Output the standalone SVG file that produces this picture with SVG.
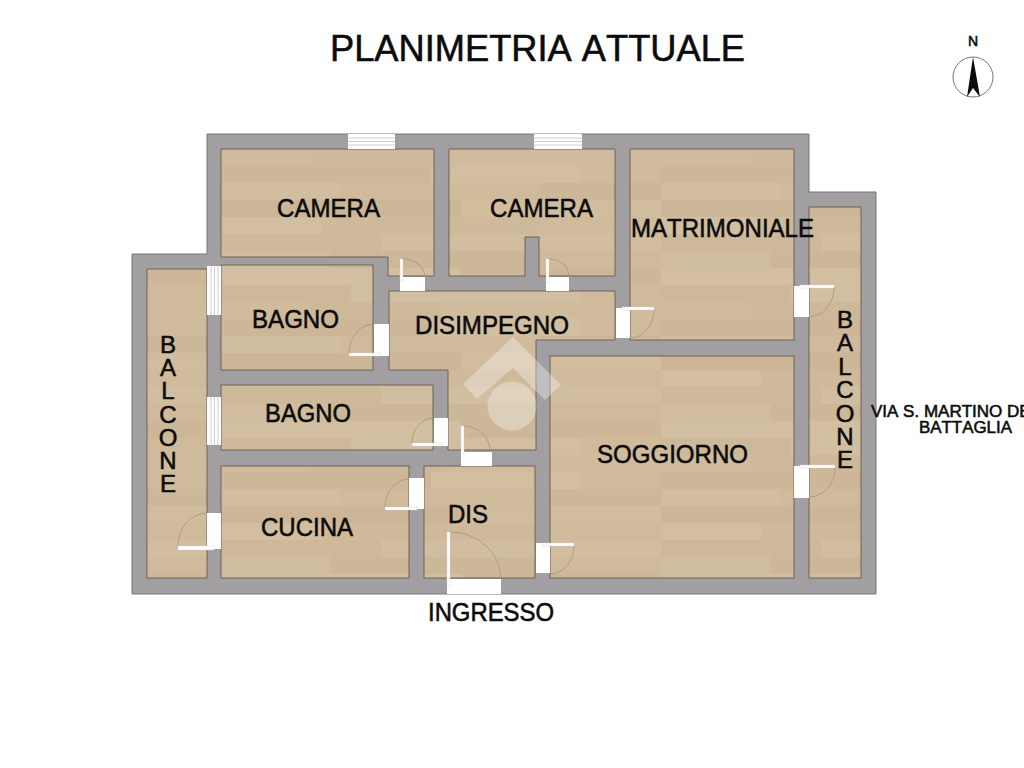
<svg xmlns="http://www.w3.org/2000/svg" width="1024" height="768" viewBox="0 0 1024 768">
<style>
.wall{fill:#a19fa2;stroke:#77757a;stroke-width:1}
.room{fill:url(#wood);stroke:#6e6255;stroke-width:1}
.open{fill:#fff}
.leaf{fill:#fff;stroke:#d4d1cc;stroke-width:.4}
.arc{fill:none;stroke:#95897a;stroke-width:.6}
.win{stroke:#cfcece;stroke-width:1;fill:none}
.t{font-family:"Liberation Sans",Arial,sans-serif;fill:#0b0b0b;stroke:#0b0b0b;stroke-width:.55;font-kerning:none}
.l{font-size:25px}
.c{font-size:24px;text-anchor:middle}
</style>
<defs>
<pattern id="wood" patternUnits="userSpaceOnUse" x="221" y="149" width="440" height="153">
<rect width="440" height="153" fill="#cfba9b"/>
<rect x="0" y="0" width="90" height="17" fill="#d0bb9c"/>
<rect x="90" y="0" width="130" height="17" fill="#cdb899"/>
<rect x="220" y="0" width="220" height="17" fill="#d0bc9d"/>
<rect x="0" y="17" width="210" height="17" fill="#cdb798"/>
<rect x="210" y="17" width="150" height="17" fill="#d2bea0"/>
<rect x="0" y="34" width="120" height="17" fill="#d1bd9f"/>
<rect x="120" y="34" width="200" height="17" fill="#cfba9b"/>
<rect x="320" y="34" width="120" height="17" fill="#ccb798"/>
<rect x="0" y="51" width="240" height="17" fill="#ccb697"/>
<rect x="240" y="51" width="200" height="17" fill="#d1bd9e"/>
<rect x="0" y="68" width="100" height="17" fill="#d2bea0"/>
<rect x="100" y="68" width="220" height="17" fill="#ceb99a"/>
<rect x="320" y="68" width="120" height="17" fill="#cfbb9c"/>
<rect x="0" y="85" width="160" height="17" fill="#cdb899"/>
<rect x="160" y="85" width="280" height="17" fill="#d1bd9f"/>
<rect x="0" y="102" width="110" height="17" fill="#d0bc9e"/>
<rect x="110" y="102" width="210" height="17" fill="#ccb798"/>
<rect x="0" y="119" width="240" height="17" fill="#d2bfa1"/>
<rect x="240" y="119" width="200" height="17" fill="#cdb798"/>
<rect x="0" y="136" width="130" height="17" fill="#cdb899"/>
<rect x="130" y="136" width="230" height="17" fill="#d2bea0"/>
</pattern>
</defs>
<rect width="1024" height="768" fill="#fff"/>

<g id="walls"><polygon class="wall" points="207,134 809,134 809,192 876,192 876,594 132,594 132,254 207,254"/></g>

<g id="rooms">
<polygon id="camera-1" class="room" points="221,149 434,149 434,276 388,276 388,257 221,257"/>
<polygon id="camera-2" class="room" points="449,149 615,149 615,276 539,276 539,237 525,237 525,276 449,276"/>
<rect id="matrimoniale" class="room" x="630" y="149" width="164" height="191"/>
<rect id="balcone-destro" class="room" x="809" y="207" width="52" height="371"/>
<rect id="soggiorno" class="room" x="550" y="356" width="244" height="222"/>
<polygon id="disimpegno" class="room" points="389,291 615,291 615,340 536,340 536,450 448,450 448,370 389,370"/>
<rect id="bagno-1" class="room" x="221" y="265" width="152" height="105"/>
<rect id="bagno-2" class="room" x="221" y="385" width="212" height="65"/>
<rect id="cucina" class="room" x="221" y="466" width="188" height="112"/>
<rect id="dis" class="room" x="424" y="466" width="111" height="112"/>
<rect id="balcone-sinistro" class="room" x="147" y="269" width="60" height="309"/>
</g>

<g id="windows">
<rect class="open" x="348" y="134" width="47" height="15"/><path class="win" d="M348 138H395M348 141.500H395M348 145H395"/>
<rect class="open" x="534" y="134" width="48" height="15"/><path class="win" d="M534 138H582M534 141.500H582M534 145H582"/>
<rect class="open" x="207" y="266" width="14" height="49"/><path class="win" d="M211 266V315M214.500 266V315M218 266V315"/>
<rect class="open" x="207" y="397" width="14" height="48"/><path class="win" d="M211 397V445M214.500 397V445M218 397V445"/>
</g>

<g id="doors">
<rect class="open" x="400" y="277" width="25" height="14"/><rect class="leaf" x="400" y="259" width="3" height="22"/><path class="arc" d="M403 259A22 18 0 0 1 425 276"/>
<rect class="open" x="546" y="277" width="23" height="14"/><rect class="leaf" x="546" y="259" width="3" height="24"/><path class="arc" d="M549 259A20 17 0 0 1 569 276"/>
<rect class="open" x="616" y="308" width="14" height="30"/><rect class="leaf" x="622" y="307" width="32" height="3"/><path class="arc" d="M654 310A24 28 0 0 1 630 338"/>
<rect class="open" x="374" y="324" width="15" height="32"/><rect class="leaf" x="349" y="353" width="32" height="3"/><path class="arc" d="M349 353A25 29 0 0 1 374 324"/>
<rect class="open" x="434" y="418" width="14" height="28"/><rect class="leaf" x="412" y="443" width="30" height="3"/><path class="arc" d="M412 443A22 25 0 0 1 434 418"/>
<rect class="open" x="461" y="452" width="31" height="14"/><rect class="leaf" x="461" y="426" width="3" height="28"/><path class="arc" d="M464 426A26 25 0 0 1 490 451"/>
<rect class="open" x="409" y="478" width="15" height="31"/><rect class="leaf" x="385" y="507" width="32" height="3"/><path class="arc" d="M385 507A24 28 0 0 1 409 479"/>
<rect class="open" x="207" y="513" width="14" height="36"/><rect class="leaf" x="178" y="546" width="36" height="4"/><path class="arc" d="M178 546A29 33 0 0 1 207 513"/>
<rect class="open" x="447" y="579" width="54" height="15"/><rect class="leaf" x="447" y="532" width="3" height="54"/><path class="arc" d="M450 532A51 47 0 0 1 501 579"/>
<rect class="open" x="536" y="543" width="14" height="30"/><rect class="leaf" x="543" y="543" width="31" height="3"/><path class="arc" d="M574 546A24 28 0 0 1 550 574"/>
<rect class="open" x="794" y="286" width="15" height="31"/><rect class="leaf" x="800" y="285" width="34" height="3"/><path class="arc" d="M834 288A25 29 0 0 1 809 317"/>
<rect class="open" x="794" y="466" width="15" height="32"/><rect class="leaf" x="800" y="465" width="35" height="3"/><path class="arc" d="M835 468A26 29 0 0 1 809 497"/>
</g>

<g id="watermark" fill="#fff" fill-opacity=".32">
<polygon points="513,337 463,384 477,399 513,368 545,400 561,385"/>
<circle cx="512" cy="406" r="24.500"/>
</g>

<g id="labels">
<text class="t" x="330" y="61" font-size="36" textLength="415" lengthAdjust="spacingAndGlyphs">PLANIMETRIA ATTUALE</text>
<text class="t l" x="277" y="217" textLength="103" lengthAdjust="spacingAndGlyphs">CAMERA</text>
<text class="t l" x="490" y="217" textLength="103" lengthAdjust="spacingAndGlyphs">CAMERA</text>
<text class="t l" x="631" y="237" textLength="183" lengthAdjust="spacingAndGlyphs">MATRIMONIALE</text>
<text class="t l" x="252" y="328" textLength="87" lengthAdjust="spacingAndGlyphs">BAGNO</text>
<text class="t l" x="415" y="334" textLength="154" lengthAdjust="spacingAndGlyphs">DISIMPEGNO</text>
<text class="t l" x="265" y="422" textLength="86" lengthAdjust="spacingAndGlyphs">BAGNO</text>
<text class="t l" x="597" y="463" textLength="151" lengthAdjust="spacingAndGlyphs">SOGGIORNO</text>
<text class="t l" x="261" y="536" textLength="92" lengthAdjust="spacingAndGlyphs">CUCINA</text>
<text class="t l" x="448" y="523" textLength="40" lengthAdjust="spacingAndGlyphs">DIS</text>
<text class="t l" x="428" y="621" textLength="126" lengthAdjust="spacingAndGlyphs">INGRESSO</text>
<text class="t c"><tspan x="168" y="353">B</tspan><tspan x="168" y="376">A</tspan><tspan x="168" y="399">L</tspan><tspan x="168" y="423">C</tspan><tspan x="168" y="446">O</tspan><tspan x="168" y="469">N</tspan><tspan x="168" y="492">E</tspan></text>
<text class="t c"><tspan x="845" y="328">B</tspan><tspan x="845" y="351">A</tspan><tspan x="845" y="375">L</tspan><tspan x="845" y="398">C</tspan><tspan x="845" y="422">O</tspan><tspan x="845" y="445">N</tspan><tspan x="845" y="468">E</tspan></text>
<text class="t" x="871" y="417" font-size="17" stroke-width=".2">VIA S. MARTINO DE</text>
<text class="t" x="919" y="433" font-size="17" stroke-width=".2" textLength="93" lengthAdjust="spacingAndGlyphs">BATTAGLIA</text>
</g>

<g id="north">
<text class="t" x="973" y="46" font-size="14" text-anchor="middle" stroke-width=".1">N</text>
<circle cx="973" cy="77" r="20" fill="#fff" stroke="#777" stroke-width="1"/>
<polygon points="973,57 980,97 973,88 967,97" fill="#0b0b0b"/>
</g>
</svg>
